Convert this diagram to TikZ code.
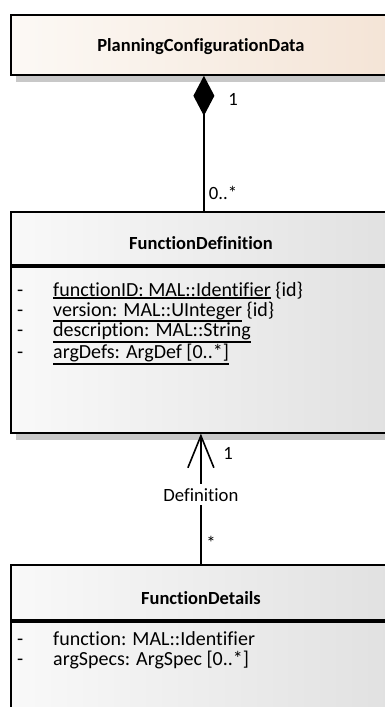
\documentclass[tikz,border=0pt]{standalone}
\usepackage{fontspec}
\setmainfont{Carlito}[Ligatures=NoCommon]
\usetikzlibrary{arrows.meta, positioning, backgrounds}
\definecolor{pcdleft}{HTML}{FCF9F5}
\definecolor{pcdright}{HTML}{F4E4D6}
\definecolor{classleft}{HTML}{F9F9F9}
\definecolor{classright}{HTML}{E1E1E1}
\definecolor{shadowgray}{HTML}{C8C8C8}
\newsavebox{\attrbox}
\newcommand{\attrul}[1]{\sbox{\attrbox}{#1}\rlap{\rule[-\dimexpr\dp\attrbox+2.6pt\relax]{\wd\attrbox}{1.8pt}}\usebox{\attrbox}}
\newcommand{\attrdash}{\makebox[36pt][l]{-}}
\tikzset{
    classbox/.style={
        rectangle,
        draw=black,
        line width=1.8pt,
        minimum width=380pt,
        left color=classleft,
        right color=classright,
        anchor=north west,
        inner sep=0pt
    },
    rootbox/.style={
        classbox,
        left color=pcdleft,
        right color=pcdright
    },
    classname/.style={
        font=\fontsize{18.5}{20}\selectfont\bfseries,
        inner sep=0pt
    },
    attrlist/.style={
        font=\fontsize{20}{19.6}\selectfont,
        align=left,
        inner sep=0pt,
        anchor=north west
    },
    mult/.style={
        font=\fontsize{18.7}{20}\selectfont,
        inner sep=1pt
    },
    composition/.style={
        draw=black,
        line width=1.6pt,
        {Diamond[length=40pt, width=21pt]}-
    },
    association/.style={
        draw=black,
        line width=1.6pt,
        -{Straight Barb[length=32pt, width=26pt]}
    },
    shadowbox/.style={
        fill=shadowgray
    }
}

\begin{document}
\begin{tikzpicture}[x=1pt, y=-1pt]
\useasboundingbox (0,0) rectangle (385,707);
\clip (0,0) rectangle (385,707);

% Classes
\node[rootbox, minimum height=60pt] (pcd) at (10,14) {};
\node[classname] (pcdname) at ([yshift=-2pt]pcd.center) {PlanningConfigurationData};

\node[classbox, minimum height=53pt] (fdef) at (10,211) {};
\node[classname] (fdefname) at ([yshift=-5pt]fdef.center) {FunctionDefinition};
\node[classbox, minimum height=166pt, below=0pt of fdef] (fdefattr) {};
\node[attrlist, below right=16pt and 7pt of fdefattr.north west] (fdefattrs) {%
\attrdash\attrul{functionID: MAL::Identifier} \{id\}\\
\attrdash\attrul{version: MAL::UInteger} \{id\}\\
\attrdash\attrul{description: MAL::String}\\
\attrdash\attrul{argDefs: ArgDef [0..*]}};

\node[classbox, minimum height=55pt] (fdet) at (10,564) {};
\node[classname] (fdetname) at ([yshift=-5.5pt]fdet.center) {FunctionDetails};
\node[classbox, minimum height=120pt, below=0pt of fdet] (fdetattr) {};
\node[attrlist, below right=11pt and 7pt of fdetattr.north west] (fdetattrs) {%
\attrdash function: MAL::Identifier\\
\attrdash argSpecs: ArgSpec [0..*]};

% Shadows
\begin{scope}[on background layer]
\fill[shadowbox] ([shift={(6,6)}]pcd.north west) rectangle ([shift={(6,6)}]pcd.south east);
\fill[shadowbox] ([shift={(6,6)}]fdef.north west) rectangle ([shift={(6,6)}]fdefattr.south east);
\fill[shadowbox] ([shift={(6,6)}]fdet.north west) rectangle ([shift={(6,6)}]fdetattr.south east);
\end{scope}

% Associations
\draw[composition] ([xshift=3pt]pcd.south) -- ([xshift=3pt]fdef.north);
\node[mult] (pcdmult) at (233,99) {1};
\node[mult] (fdefmult) at (223,193) {0..*};

\draw[association] (fdet.north) -- node[mult, fill=white, inner sep=4pt, pos=0.53] (assocname) {Definition} (fdefattr.south);
\node[mult] (defmult) at (228,453) {1};
\node[mult] (detmult) at (211,543) {*};

\end{tikzpicture}
\end{document}
